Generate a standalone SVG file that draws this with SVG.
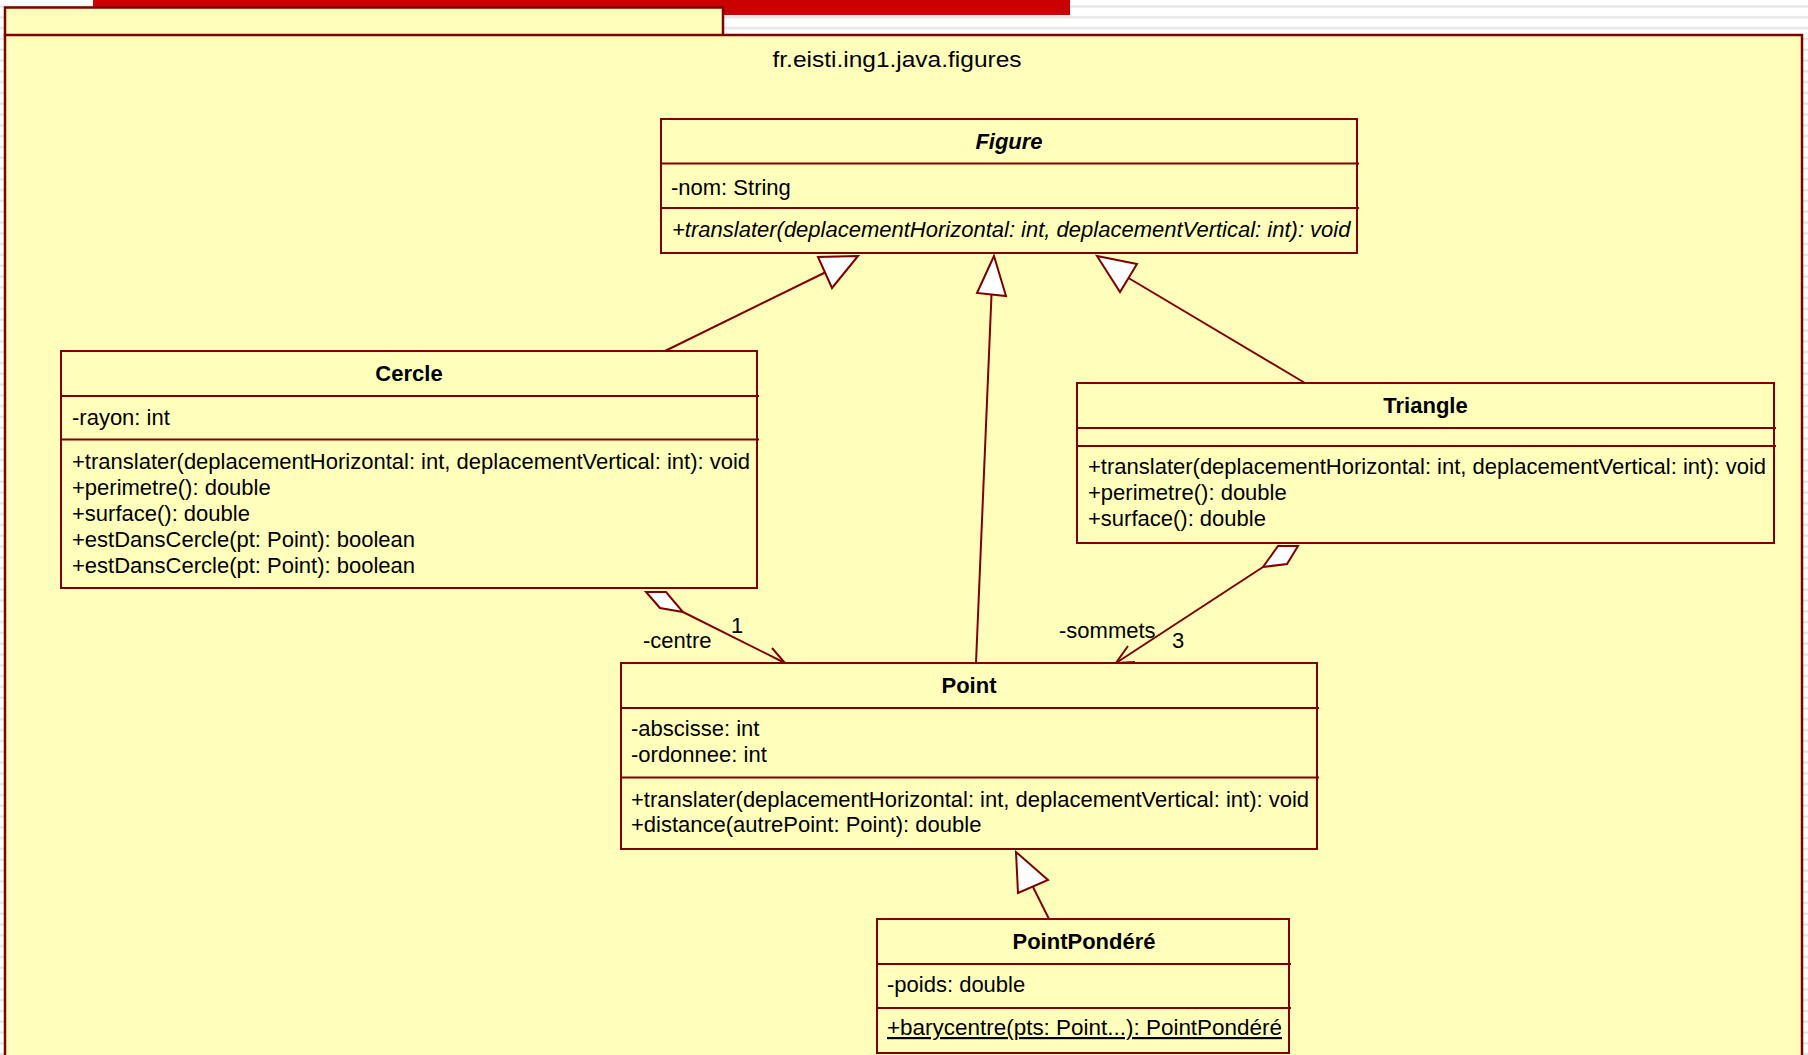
<svg xmlns="http://www.w3.org/2000/svg" width="1808" height="1055" viewBox="0 0 1808 1055">
  <defs>
    <pattern id="stripes" patternUnits="userSpaceOnUse" width="20" height="10.8">
      <rect x="0" y="0" width="20" height="10.8" fill="#ffffff"/>
      <rect x="0" y="5.5" width="20" height="2" fill="#e2e2e2"/>
    </pattern>
    <style>
      .pkg { fill: #ffffbb; stroke: #800000; stroke-width: 2.5; }
      .cls { fill: #ffffbb; stroke: #800000; stroke-width: 2; }
      .div { stroke: #800000; stroke-width: 2; fill: none; }
      .edge { stroke: #800000; stroke-width: 2; fill: none; }
      .head { fill: #ffffff; stroke: #800000; stroke-width: 2; stroke-linejoin: miter; }
      text { font-family: "Liberation Sans", Arial, sans-serif; font-size: 22px; fill: #000000; }
      .title { font-weight: bold; text-anchor: middle; }
      .abstract { font-style: italic; }
      .static { text-decoration: underline; }
    </style>
  </defs>

  <!-- canvas background -->
  <rect x="0" y="0" width="1808" height="1055" fill="url(#stripes)"/>
  <rect x="93" y="0" width="977" height="15" fill="#cc0000"/>

  <!-- package frame -->
  <g id="package">
    <rect class="pkg" x="5" y="7.5" width="718" height="28"/>
    <rect class="pkg" x="5" y="35" width="1797" height="1030"/>
    <text x="897" y="67" text-anchor="middle" textLength="249" lengthAdjust="spacingAndGlyphs">fr.eisti.ing1.java.figures</text>
  </g>

  <!-- connectors -->
  <g id="connectors">
    <!-- Cercle generalizes Figure -->
    <line class="edge" x1="665" y1="351" x2="825" y2="272.5"/>
    <polygon class="head" points="858,256 818,257 832,288"/>
    <!-- Point generalizes Figure -->
    <line class="edge" x1="976" y1="663" x2="991.5" y2="294.5"/>
    <polygon class="head" points="994,256 977,293 1006,296"/>
    <!-- Triangle generalizes Figure -->
    <line class="edge" x1="1305" y1="383" x2="1128.5" y2="278"/>
    <polygon class="head" points="1097,256 1137,264 1120,292"/>
    <!-- PointPondéré generalizes Point -->
    <line class="edge" x1="1049" y1="919" x2="1033" y2="887"/>
    <polygon class="head" points="1016,852 1048,880 1018,893"/>

    <!-- Cercle aggregates Point (centre) -->
    <polygon class="head" points="646,592 666,592 683,612 660,608"/>
    <line class="edge" x1="683" y1="612" x2="785" y2="663"/>
    <polyline class="edge" points="772,648 785,663 767,663"/>
    <text x="643" y="648">-centre</text>
    <text x="731" y="633">1</text>

    <!-- Triangle aggregates Point (sommets) -->
    <polygon class="head" points="1298,546 1287,564 1263,567 1278,546"/>
    <line class="edge" x1="1263" y1="567" x2="1116" y2="663"/>
    <polyline class="edge" points="1128,646 1116,663 1135,662"/>
    <text x="1059" y="638">-sommets</text>
    <text x="1172" y="648">3</text>
  </g>

  <!-- abstract class Figure -->
  <g id="Figure">
    <rect class="cls" x="661" y="119" width="696" height="134"/>
    <line class="div" x1="661" y1="163.5" x2="1359" y2="163.5"/>
    <line class="div" x1="661" y1="208" x2="1359" y2="208"/>
    <text class="title abstract" x="1009" y="149">Figure</text>
    <text x="671" y="195">-nom: String</text>
    <text class="abstract" x="672" y="237">+translater(deplacementHorizontal: int, deplacementVertical: int): void</text>
  </g>

  <!-- class Cercle -->
  <g id="Cercle">
    <rect class="cls" x="61" y="351" width="696" height="237"/>
    <line class="div" x1="61" y1="396" x2="759" y2="396"/>
    <line class="div" x1="61" y1="439.5" x2="759" y2="439.5"/>
    <text class="title" x="409" y="381">Cercle</text>
    <text x="72" y="425">-rayon: int</text>
    <text x="72" y="468.5">+translater(deplacementHorizontal: int, deplacementVertical: int): void</text>
    <text x="72" y="494.5">+perimetre(): double</text>
    <text x="72" y="520.5">+surface(): double</text>
    <text x="72" y="546.5">+estDansCercle(pt: Point): boolean</text>
    <text x="72" y="572.5">+estDansCercle(pt: Point): boolean</text>
  </g>

  <!-- class Triangle -->
  <g id="Triangle">
    <rect class="cls" x="1077" y="383" width="697" height="160"/>
    <line class="div" x1="1077" y1="428" x2="1776" y2="428"/>
    <line class="div" x1="1077" y1="446" x2="1776" y2="446"/>
    <text class="title" x="1425.5" y="413">Triangle</text>
    <text x="1088" y="474">+translater(deplacementHorizontal: int, deplacementVertical: int): void</text>
    <text x="1088" y="500">+perimetre(): double</text>
    <text x="1088" y="526">+surface(): double</text>
  </g>

  <!-- class Point -->
  <g id="Point">
    <rect class="cls" x="621" y="663" width="696" height="186"/>
    <line class="div" x1="621" y1="708" x2="1319" y2="708"/>
    <line class="div" x1="621" y1="777.5" x2="1319" y2="777.5"/>
    <text class="title" x="969" y="692.5">Point</text>
    <text x="631" y="736">-abscisse: int</text>
    <text x="631" y="762">-ordonnee: int</text>
    <text x="631" y="806.5">+translater(deplacementHorizontal: int, deplacementVertical: int): void</text>
    <text x="631" y="832">+distance(autrePoint: Point): double</text>
  </g>

  <!-- class PointPondéré -->
  <g id="PointPondere">
    <rect class="cls" x="877" y="919" width="412" height="134"/>
    <line class="div" x1="877" y1="964" x2="1291" y2="964"/>
    <line class="div" x1="877" y1="1008" x2="1291" y2="1008"/>
    <text class="title" x="1084" y="949">PointPondéré</text>
    <text x="887" y="992">-poids: double</text>
    <text class="static" x="887" y="1035" textLength="395" lengthAdjust="spacingAndGlyphs">+barycentre(pts: Point...): PointPondéré</text>
  </g>
</svg>
